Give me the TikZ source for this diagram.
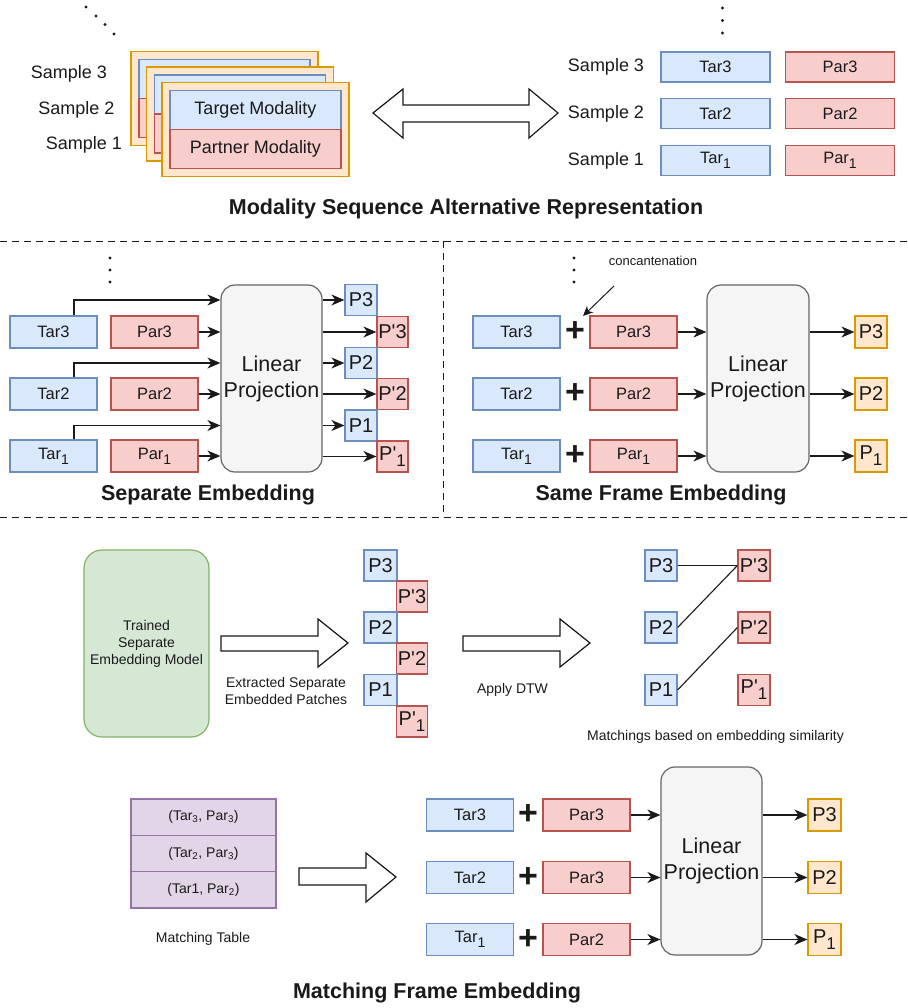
\documentclass[tikz,border=0pt]{standalone}
\usepackage{fontspec}
\usepackage{graphicx}
\setmainfont{Liberation Sans}
\usetikzlibrary{arrows.meta,calc}
\definecolor{tarF}{HTML}{DAE8FC}\definecolor{tarS}{HTML}{6C8EBF}
\definecolor{parF}{HTML}{F8CECC}\definecolor{parS}{HTML}{B85450}
\definecolor{orF}{HTML}{FFE6CC}\definecolor{orS}{HTML}{D79B00}
\definecolor{grF}{HTML}{D5E8D4}\definecolor{grS}{HTML}{82B366}
\definecolor{puF}{HTML}{E1D5E7}\definecolor{puS}{HTML}{9673A6}
\definecolor{lpF}{HTML}{F5F5F5}\definecolor{lpS}{HTML}{666666}
\definecolor{ink}{HTML}{1A1A1A}
\newcommand{\fsz}[2]{\fontsize{#1}{#2}\selectfont}
\newcommand{\dn}[1]{\raisebox{-0.3em}{\scalebox{0.85}{#1}}}
\newcommand{\Pp}{P\textquotesingle}
\begin{document}
\begin{tikzpicture}[x=1pt,y=-1pt,
  box/.style={draw, line width=1.2pt, inner sep=0pt, text=ink, font=\fsz{16.5}{19}},
  tar/.style={box, draw=tarS, fill=tarF},
  par/.style={box, draw=parS, fill=parF},
  org/.style={box, draw=orS, fill=orF},
  tb/.style={tar, minimum width=87pt, minimum height=32pt},
  pb/.style={par, minimum width=87pt, minimum height=32pt},
  ptar/.style={tar, minimum width=32pt, minimum height=31pt, font=\fsz{20}{22}},
  ppar/.style={par, minimum width=31pt, minimum height=31pt, font=\fsz{20}{22}},
  porg/.style={org, minimum width=32pt, minimum height=32pt, font=\fsz{20}{22}},
  lp/.style={draw=lpS, fill=lpF, rounded corners=14pt, line width=1.2pt, minimum width=101pt, minimum height=187pt, align=center, font=\fsz{21.5}{26}, text=ink, inner sep=0pt},
  arr/.style={-{Stealth[length=13pt,width=11pt,inset=4pt]}, line width=1.3pt, draw=ink},
  plussign/.style={font=\bfseries\fsz{34}{34}, inner sep=0pt, text=ink},
  lbl/.style={font=\fsz{14}{17}, align=center, text=ink, inner sep=0pt},
  smp/.style={font=\fsz{18}{21}, text=ink, inner sep=0pt},
  ttl/.style={font=\bfseries\fsz{21.5}{25}, text=ink, inner sep=0pt},
  dotmark/.style={circle, fill=ink, inner sep=0pt, minimum size=3.2pt},
  sepline/.style={dash pattern=on 7pt off 5pt, line width=1pt, draw=ink},
  blk/.style={draw=ink, fill=white, line width=1.2pt, line join=miter}
]
\useasboundingbox (0,0) rectangle (907,1008);

%% ---------- Top: modality sequence ----------
\foreach \p [count=\i] in {(86,7),(96,16),(105,24.5),(114,34)} \node[dotmark] (dtl\i) at \p {};
\node[org, minimum width=187pt, minimum height=94pt] (c3) at (224.5,98.5) {};
\node[tar, minimum width=171pt, minimum height=39pt] (c3t) at (224.5,79) {};
\node[par, minimum width=171pt, minimum height=39pt] (c3p) at (224.5,118) {};
\node[org, minimum width=187pt, minimum height=94pt] (c2) at (240,114) {};
\node[tar, minimum width=171pt, minimum height=39pt] (c2t) at (240,94.5) {};
\node[par, minimum width=171pt, minimum height=39pt] (c2p) at (240,133.5) {};
\node[org, minimum width=187pt, minimum height=94pt] (c1) at (255.5,129.5) {};
\node[tar, minimum width=171pt, minimum height=39pt, font=\fsz{18}{21}] (c1t) at (255.5,110) {Target Modality};
\node[par, minimum width=171pt, minimum height=39pt, font=\fsz{18}{21}] (c1p) at (255.5,149) {Partner Modality};
\node[smp] (sl3) at (69,74) {Sample 3};
\node[smp] (sl2) at (76.5,110) {Sample 2};
\node[smp] (sl1) at (84,145) {Sample 1};
\draw[blk] (373,113) -- (403,89) -- (403,105) -- (529,105) -- (529,89) -- (558,113)
  -- (529,138) -- (529,122) -- (403,122) -- (403,138) -- cycle;
\foreach \y [count=\i] in {8,20.5,33} \node[dotmark] (dtr\i) at (722.5,\y) {};
\node[smp] (sr3) at (606,67) {Sample 3};
\node[smp] (sr2) at (606,113.5) {Sample 2};
\node[smp] (sr1) at (606,160.5) {Sample 1};
\node[tar, minimum width=109pt, minimum height=30pt] (rt3) at (715.5,67) {Tar3};
\node[tar, minimum width=109pt, minimum height=30pt] (rt2) at (715.5,113.5) {Tar2};
\node[tar, minimum width=109pt, minimum height=30pt] (rt1) at (715.5,160.5) {Tar\dn{1}};
\node[par, minimum width=109pt, minimum height=30pt] (rp3) at (840,67) {Par3};
\node[par, minimum width=109pt, minimum height=30pt] (rp2) at (840,113.5) {Par2};
\node[par, minimum width=109pt, minimum height=30pt] (rp1) at (840,160.5) {Par\dn{1}};
\node[ttl] (title1) at (466,209) {Modality Sequence Alternative Representation};

%% separators
\draw[sepline] (0,241) -- (907,241);
\draw[sepline] (443,241) -- (443,517);
\draw[sepline] (0,517) -- (907,517);

%% ---------- Separate embedding ----------
\foreach \y [count=\i] in {258,270,282} \node[dotmark] (dsl\i) at (110,\y) {};
\node[tb] (st3) at (53.5,332) {Tar3};
\node[tb] (st2) at (53.5,394) {Tar2};
\node[tb] (st1) at (53.5,456) {Tar\dn{1}};
\node[pb] (sp3) at (154.5,332) {Par3};
\node[pb] (sp2) at (154.5,394) {Par2};
\node[pb] (sp1) at (154.5,456) {Par\dn{1}};
\node[lp] (slp) at (271.5,378.5) {Linear\\Projection};
\node[ptar] (so3) at (361,300) {P3};
\node[ppar] (sq3) at (392.5,332) {\Pp 3};
\node[ptar] (so2) at (361,363) {P2};
\node[ppar] (sq2) at (392.5,394) {\Pp 2};
\node[ptar] (so1) at (361,425.5) {P1};
\node[ppar] (sq1) at (392.5,456.5) {\Pp\dn{1}};
\foreach \i in {1,2,3}{
  \draw[arr] ([xshift=20.5pt]st\i.north) |- (slp.west |- so\i);
  \draw[arr] (sp\i.east) -- (slp.west |- sp\i);
  \draw[arr] (slp.east |- so\i) -- (so\i.west);
  \draw[arr] (slp.east |- sq\i) -- (sq\i.west);
}
\node[ttl] (title2) at (208,495) {Separate Embedding};

%% ---------- Same frame embedding ----------
\foreach \y [count=\i] in {258,270,282} \node[dotmark] (dsr\i) at (574,\y) {};
\node[font=\fsz{13}{15}, text=ink, inner sep=0pt] (conc) at (653,261) {concantenation};
\coordinate (ccs) at (614,286);
\coordinate (cce) at (583,316);
\draw[-{Stealth[length=10pt,width=9pt,inset=3pt]}, line width=1pt, draw=ink] (ccs) -- (cce);
\node[tb] (ft3) at (516.5,332) {Tar3};
\node[tb] (ft2) at (516.5,394) {Tar2};
\node[tb] (ft1) at (516.5,456) {Tar\dn{1}};
\node[plussign] (fx3) at (575,332) {+};
\node[plussign] (fx2) at (575,394) {+};
\node[plussign] (fx1) at (575,456) {+};
\node[pb] (fp3) at (633.5,332) {Par3};
\node[pb] (fp2) at (633.5,394) {Par2};
\node[pb] (fp1) at (633.5,456) {Par\dn{1}};
\node[lp, minimum width=102pt] (flp) at (758,378.5) {Linear\\Projection};
\node[porg] (fo3) at (871,332) {P3};
\node[porg] (fo2) at (871,394) {P2};
\node[porg] (fo1) at (871,456) {P\dn{1}};
\foreach \i in {1,2,3}{
  \draw[arr] (fp\i.east) -- (flp.west |- fp\i);
  \draw[arr] (flp.east |- fo\i) -- (fo\i.west);
}
\node[ttl] (title3) at (661,495) {Same Frame Embedding};

%% ---------- DTW section ----------
\node[draw=grS, fill=grF, line width=1.2pt, rounded corners=18pt, minimum width=125pt, minimum height=187pt,
  align=center, font=\fsz{14}{17}, text=ink, inner sep=0pt] (model) at (146.5,643.5) {Trained\\Separate\\Embedding Model};
\draw[blk] (221,636) -- (318,636) -- (318,619) -- (348,643) -- (318,667) -- (318,651) -- (221,651) -- cycle;
\node[lbl] (extr) at (286,691) {Extracted Separate\\Embedded Patches};
\node[ptar, minimum width=33pt] (ep3) at (380.5,565.5) {P3};
\node[ppar] (eq3) at (412,596.5) {\Pp 3};
\node[ptar, minimum width=33pt] (ep2) at (380.5,627.5) {P2};
\node[ppar] (eq2) at (412,658.5) {\Pp 2};
\node[ptar, minimum width=33pt] (ep1) at (380.5,690) {P1};
\node[ppar] (eq1) at (412,721.5) {\Pp\dn{1}};
\draw[blk] (463,636) -- (560,636) -- (560,619) -- (590,643) -- (560,667) -- (560,651) -- (463,651) -- cycle;
\node[lbl] (dtw) at (512.5,690) {Apply DTW};
\node[ptar] (mp3) at (661,565.5) {P3};
\node[ptar] (mp2) at (661,627.5) {P2};
\node[ptar] (mp1) at (661,690) {P1};
\node[ppar, minimum width=32pt] (mq3) at (754,565.5) {\Pp 3};
\node[ppar, minimum width=32pt] (mq2) at (754,627.5) {\Pp 2};
\node[ppar, minimum width=32pt] (mq1) at (754,690) {\Pp\dn{1}};
\draw[line width=1.1pt, draw=ink] (mp3.east) -- (mq3.west);
\draw[line width=1.1pt, draw=ink] (mp2.east) -- (mq3.west);
\draw[line width=1.1pt, draw=ink] (mp1.east) -- (mq2.west);
\node[lbl] (mtch) at (715.5,737) {Matchings based on embedding similarity};

%% ---------- Matching frame embedding ----------
\node[box, draw=puS, fill=puF, minimum width=145pt, minimum height=36.3pt, font=\fsz{14}{17}] (mt3) at (203.5,817.2) {(Tar\textsubscript{3}, Par\textsubscript{3})};
\node[box, draw=puS, fill=puF, minimum width=145pt, minimum height=36.3pt, font=\fsz{14}{17}] (mt2) at (203.5,853.5) {(Tar\textsubscript{2}, Par\textsubscript{3})};
\node[box, draw=puS, fill=puF, minimum width=145pt, minimum height=36.3pt, font=\fsz{14}{17}] (mt1) at (203.5,889.8) {(Tar1, Par\textsubscript{2})};
\node[lbl] (mtl) at (203,939) {Matching Table};
\draw[blk] (299,868) -- (366,868) -- (366,853) -- (396,877) -- (366,902) -- (366,885) -- (299,885) -- cycle;
\node[tb] (bt3) at (470,815) {Tar3};
\node[tb] (bt2) at (470,877.5) {Tar2};
\node[tb] (bt1) at (470,939.5) {Tar\dn{1}};
\node[plussign] (bx3) at (528,815) {+};
\node[plussign] (bx2) at (528,877.5) {+};
\node[plussign] (bx1) at (528,939.5) {+};
\node[pb] (bp3) at (586.5,815) {Par3};
\node[pb] (bp2) at (586.5,877.5) {Par3};
\node[pb] (bp1) at (586.5,939.5) {Par2};
\node[lp, minimum height=188pt] (blp) at (711.5,861) {Linear\\Projection};
\node[porg, minimum width=33pt] (bo3) at (824.5,815) {P3};
\node[porg, minimum width=33pt] (bo2) at (824.5,877.5) {P2};
\node[porg, minimum width=33pt] (bo1) at (824.5,939.5) {P\dn{1}};
\foreach \i in {1,2,3}{
  \draw[arr] (bp\i.east) -- (blp.west |- bp\i);
  \draw[arr] (blp.east |- bo\i) -- (bo\i.west);
}
\node[ttl] (title4) at (437,993) {Matching Frame Embedding};
\end{tikzpicture}
\end{document}
